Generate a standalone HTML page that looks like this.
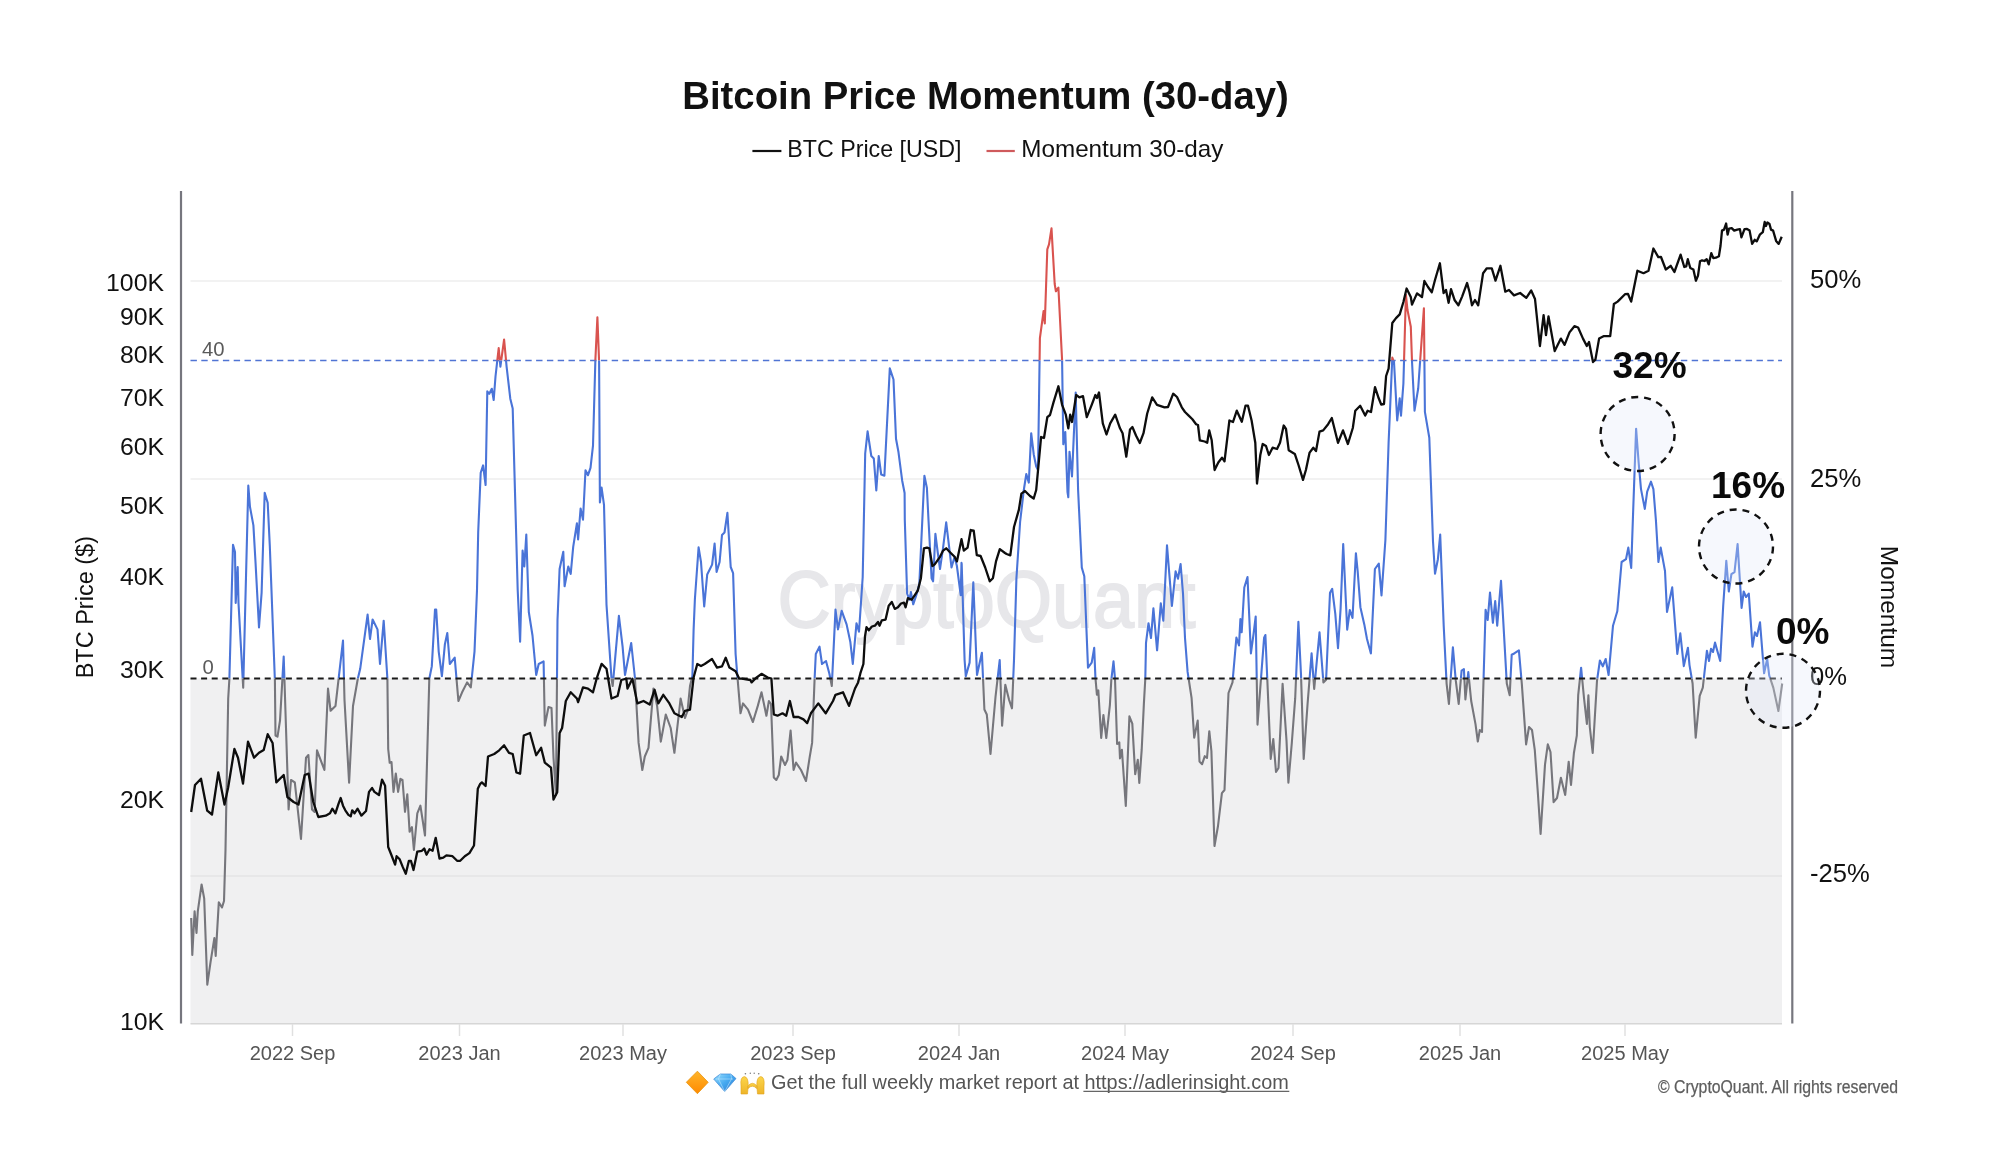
<!DOCTYPE html>
<html><head><meta charset="utf-8"><style>
html,body{margin:0;padding:0;background:#fff;}
body{width:2000px;height:1175px;overflow:hidden;position:relative;}
svg{position:absolute;left:0;top:0;will-change:transform;}
text{font-family:"Liberation Sans",sans-serif;}
</style></head><body>
<svg width="2000" height="1175" viewBox="0 0 2000 1175">
<defs>
<clipPath id="cTop"><rect x="0" y="0" width="2000" height="360.5"/></clipPath>
<clipPath id="cMid"><rect x="0" y="360.5" width="2000" height="318.0"/></clipPath>
<clipPath id="cBot"><rect x="0" y="678.5" width="2000" height="496.5"/></clipPath>
</defs>
<text x="682.3" y="108.8" font-size="38.5" font-weight="bold" fill="#111" textLength="606.5" lengthAdjust="spacingAndGlyphs">Bitcoin Price Momentum (30-day)</text>
<line x1="752.4" y1="151" x2="781.4" y2="151" stroke="#111" stroke-width="2.2"/>
<text x="787.3" y="156.9" font-size="24" fill="#111" textLength="174.2" lengthAdjust="spacingAndGlyphs">BTC Price [USD]</text>
<line x1="986.5" y1="151" x2="1014.8" y2="151" stroke="#cf5a5c" stroke-width="2.2"/>
<text x="1021.3" y="156.6" font-size="24" fill="#111" textLength="202" lengthAdjust="spacingAndGlyphs">Momentum 30-day</text>
<rect x="190.5" y="678.5" width="1591.5" height="345.0" fill="#f0f0f1"/>
<g stroke="#eeeeee" stroke-width="1.5">
<line x1="190.5" y1="281" x2="1782" y2="281"/>
<line x1="190.5" y1="479" x2="1782" y2="479"/>
<line x1="190.5" y1="876" x2="1782" y2="876" stroke="#e4e4e4"/>
</g>
<line x1="190.5" y1="1023.8" x2="1782" y2="1023.8" stroke="#d6d6d6" stroke-width="1.5"/>
<text x="777.6" y="626.5" font-size="79" fill="#e7e7ea" stroke="#e7e7ea" stroke-width="1.8" textLength="418" lengthAdjust="spacingAndGlyphs">CryptoQuant</text>
<line x1="190.5" y1="360.5" x2="1782" y2="360.5" stroke="#5074d4" stroke-width="1.7" stroke-dasharray="6.4,4.4"/>
<text x="202" y="356.2" font-size="20.3" fill="#5a5a5a">40</text>
<text x="202.5" y="673.8" font-size="20.3" fill="#5a5a5a">0</text>
<g fill="none" stroke-width="2.1" stroke-linejoin="round">
<path d="M191.2,918.0 L192.3,955.0 L194.6,911.3 L196.5,933.0 L197.8,911.3 L201.6,884.5 L204.2,898.5 L207.3,984.7 L210.5,962.4 L214.4,938.0 L215.7,956.0 L218.8,902.4 L222.0,907.5 L224.0,901.0 L225.5,850.0 L228.2,698.5 L229.4,678.7 L233.0,544.8 L235.0,552.0 L235.7,603.0 L237.7,567.0 L238.5,603.0 L243.2,687.8 L248.3,485.5 L250.0,507.0 L253.4,525.4 L255.5,562.0 L259.0,627.5 L261.6,592.8 L264.7,492.7 L267.7,502.9 L269.8,545.8 L274.9,680.6 L275.5,735.5 L277.5,736.7 L280.0,720.7 L283.7,656.5 L286.0,728.0 L288.6,809.5 L291.0,780.0 L294.8,782.4 L301.0,839.0 L306.0,757.7 L308.4,755.0 L312.0,809.5 L314.6,812.0 L317.0,750.3 L324.4,770.0 L328.0,688.6 L330.6,710.8 L335.5,705.9 L343.0,640.5 L344.5,700.0 L349.1,782.7 L353.0,706.0 L357.8,678.7 L360.2,668.8 L367.6,614.6 L370.0,639.0 L372.6,619.5 L377.5,629.4 L380.0,664.0 L383.7,620.7 L387.4,678.7 L388.2,749.0 L389.7,762.8 L391.5,762.0 L393.5,791.9 L395.8,773.5 L398.1,791.9 L400.4,778.9 L402.5,780.0 L405.0,811.8 L407.3,794.2 L409.6,831.7 L411.9,827.1 L413.9,850.0 L417.3,813.3 L420.4,805.7 L425.0,835.5 L429.3,678.7 L431.8,666.4 L435.0,609.6 L436.2,609.6 L438.7,651.6 L441.9,676.2 L444.9,644.2 L447.3,633.0 L449.8,664.0 L454.7,657.7 L458.4,701.0 L462.1,692.3 L467.1,682.4 L470.8,687.4 L474.5,651.6 L477.0,590.0 L478.2,532.0 L480.7,472.8 L483.1,465.4 L485.6,485.0 L487.3,391.3 L489.3,393.8 L491.8,388.8 L493.7,400.0 L495.5,376.5 L498.7,348.0 L500.4,366.6 L504.1,339.5 L506.6,366.6 L510.3,398.7 L512.7,408.6 L517.7,590.0 L520.1,641.7 L522.6,550.5 L524.3,566.5 L526.3,534.5 L528.8,612.0 L532.5,635.5 L536.2,675.0 L538.7,664.0 L543.6,661.4 L544.8,725.6 L548.5,707.0 L551.5,708.0 L553.5,757.7 L556.0,794.7 L557.5,620.0 L559.6,569.0 L563.3,551.7 L564.6,586.3 L568.3,566.5 L570.7,574.0 L573.2,546.8 L576.9,523.3 L578.1,539.4 L580.6,508.5 L583.0,519.6 L585.5,470.3 L588.0,475.2 L590.5,467.8 L593.0,445.6 L595.4,359.2 L597.4,317.3 L599.1,361.7 L599.9,502.4 L601.6,487.6 L604.0,504.8 L606.5,604.7 L611.5,678.7 L612.7,686.0 L618.9,615.8 L622.6,646.6 L625.0,675.0 L631.2,643.0 L634.9,677.5 L638.6,742.9 L642.3,770.0 L644.8,756.5 L648.5,747.8 L653.4,688.6 L657.1,705.9 L660.8,741.6 L665.8,714.5 L670.7,728.0 L674.4,752.8 L680.6,698.5 L685.0,718.0 L687.5,711.0 L690.0,686.0 L692.4,676.0 L693.6,630.0 L694.9,599.0 L698.6,547.3 L701.0,562.0 L704.2,606.5 L707.2,574.5 L709.7,569.5 L712.1,564.6 L714.6,543.6 L716.6,572.0 L719.6,562.0 L722.0,535.0 L724.5,532.5 L727.4,512.8 L730.7,567.0 L733.1,573.2 L735.6,654.0 L738.0,683.7 L740.5,713.3 L743.0,703.4 L748.0,709.6 L752.9,722.0 L757.8,705.9 L761.5,692.3 L766.4,715.7 L768.9,701.0 L771.0,704.0 L773.8,777.4 L776.3,780.0 L778.8,775.0 L781.2,756.5 L785.0,765.0 L787.4,760.0 L790.6,730.5 L793.6,770.0 L796.0,762.6 L801.0,770.0 L806.0,781.0 L809.6,757.7 L812.1,742.9 L814.6,678.7 L815.8,654.0 L819.5,646.6 L822.0,664.0 L826.0,661.0 L829.4,673.8 L831.8,686.0 L835.5,609.6 L838.0,629.4 L841.7,610.8 L846.6,624.4 L850.3,641.7 L852.8,664.0 L856.5,623.2 L859.0,631.8 L862.7,577.0 L865.2,453.5 L867.6,431.3 L871.3,456.0 L873.8,458.5 L876.3,490.5 L878.7,456.0 L881.2,474.5 L884.4,475.7 L889.8,368.4 L893.5,379.5 L896.0,438.7 L898.5,452.3 L902.2,480.7 L904.6,493.0 L904.8,520.0 L907.1,593.5 L909.4,599.7 L910.9,592.0 L913.2,604.3 L916.3,595.1 L919.3,584.3 L924.4,475.7 L926.9,488.0 L928.5,520.0 L931.6,578.2 L933.1,581.3 L935.4,533.8 L937.7,552.2 L940.0,569.0 L943.1,547.6 L946.2,522.3 L949.2,547.6 L951.5,567.5 L954.6,556.8 L956.9,566.0 L960.7,595.1 L961.5,562.9 L961.7,564.0 L964.6,660.0 L965.8,676.2 L969.6,662.6 L973.3,582.4 L977.0,675.0 L981.9,652.8 L984.4,709.5 L986.8,714.5 L990.5,754.0 L995.5,697.0 L999.7,660.0 L1002.1,725.6 L1005.3,684.8 L1009.0,699.6 L1012.0,708.3 L1014.0,660.0 L1016.4,578.7 L1020.1,522.0 L1023.8,490.0 L1026.3,474.0 L1028.8,482.6 L1031.2,433.2 L1033.7,454.2 L1036.2,466.5 L1038.0,470.0 L1039.9,338.2 L1043.6,311.0 L1044.8,323.4 L1047.3,249.4 L1049.0,244.4 L1051.5,228.4 L1054.7,284.0 L1055.9,291.3 L1058.4,287.6 L1062.1,360.4 L1063.3,444.3 L1065.3,432.0 L1067.5,492.0 L1068.3,497.3 L1069.5,451.7 L1072.0,476.4 L1075.7,392.5 L1078.1,490.0 L1081.8,567.6 L1084.3,576.2 L1088.0,667.6 L1091.7,662.6 L1094.2,647.8 L1095.4,677.4 L1096.9,694.7 L1098.3,690.4 L1101.2,738.0 L1103.4,715.0 L1106.3,738.0 L1109.9,704.8 L1111.3,680.0 L1113.5,661.4 L1115.0,678.8 L1117.1,743.9 L1119.3,742.4 L1120.0,758.4 L1121.9,749.7 L1125.8,806.0 L1129.4,716.4 L1132.3,723.6 L1135.2,774.3 L1137.8,759.8 L1139.3,783.0 L1141.7,749.7 L1143.9,703.4 L1145.3,678.8 L1146.0,642.9 L1148.5,623.2 L1151.0,638.0 L1153.4,608.3 L1157.1,650.3 L1160.8,603.4 L1163.3,620.7 L1167.0,545.4 L1171.9,605.9 L1175.6,571.3 L1178.0,578.7 L1180.6,564.0 L1183.0,593.5 L1185.0,638.0 L1187.6,671.9 L1191.6,698.2 L1194.2,737.8 L1197.7,720.6 L1199.5,761.5 L1202.1,764.2 L1204.8,756.2 L1207.0,758.0 L1209.3,731.2 L1211.4,751.0 L1214.5,846.0 L1218.0,826.0 L1221.9,793.2 L1224.5,790.0 L1228.5,693.0 L1232.5,682.4 L1236.4,637.6 L1239.0,645.5 L1240.4,619.0 L1241.7,632.3 L1244.3,587.5 L1247.5,577.0 L1250.9,653.4 L1253.6,633.6 L1255.7,616.5 L1257.5,724.6 L1261.5,671.9 L1264.1,637.6 L1265.4,635.0 L1270.7,758.9 L1273.3,739.0 L1276.0,772.0 L1278.5,768.0 L1282.6,683.7 L1286.5,740.4 L1288.4,782.6 L1291.8,743.0 L1295.2,698.2 L1298.4,621.8 L1301.0,674.5 L1303.7,758.9 L1307.6,703.5 L1311.6,653.4 L1314.2,689.0 L1319.5,632.3 L1323.4,682.4 L1326.1,679.8 L1330.0,592.7 L1332.2,588.8 L1335.3,613.8 L1338.0,648.1 L1340.6,608.6 L1343.2,544.0 L1347.2,629.7 L1349.8,610.0 L1352.5,618.0 L1355.9,553.2 L1357.7,571.6 L1360.4,607.2 L1364.3,624.4 L1367.0,639.0 L1370.9,653.4 L1374.9,569.0 L1378.8,563.7 L1381.5,595.4 L1385.4,540.0 L1388.6,442.8 L1392.3,357.6 L1394.0,362.0 L1396.0,398.3 L1397.2,420.5 L1399.7,398.3 L1401.0,415.6 L1403.4,383.5 L1405.9,294.7 L1407.5,310.0 L1410.8,326.8 L1412.0,361.3 L1414.5,410.7 L1418.2,388.5 L1419.4,371.2 L1423.9,308.3 L1424.9,411.9 L1429.3,437.8 L1433.0,541.5 L1435.0,573.7 L1437.9,559.2 L1440.2,534.6 L1443.7,625.7 L1446.6,683.6 L1448.9,703.9 L1452.9,647.4 L1455.8,680.7 L1458.7,703.9 L1461.6,670.6 L1463.9,669.1 L1465.4,699.5 L1468.3,672.0 L1471.2,701.0 L1475.5,724.1 L1477.8,741.5 L1479.8,730.0 L1482.0,732.0 L1485.6,609.8 L1487.7,620.0 L1490.0,592.5 L1492.9,622.8 L1495.2,601.1 L1497.2,625.7 L1501.0,580.9 L1506.8,683.6 L1509.7,695.2 L1511.7,654.7 L1514.6,653.2 L1518.9,650.3 L1521.8,683.6 L1526.1,744.4 L1529.0,727.0 L1532.0,730.0 L1534.8,750.2 L1537.7,790.7 L1540.6,834.0 L1545.0,764.6 L1547.8,744.4 L1550.5,752.0 L1553.6,802.2 L1557.0,798.0 L1560.9,777.7 L1565.2,795.0 L1568.7,761.7 L1571.0,784.9 L1573.9,753.0 L1576.8,735.7 L1578.2,695.2 L1581.1,667.7 L1584.0,698.0 L1586.9,724.0 L1588.4,695.2 L1589.8,727.0 L1592.7,753.0 L1597.0,680.7 L1599.9,660.5 L1602.8,666.3 L1605.7,659.0 L1608.6,675.0 L1613.0,625.7 L1617.3,611.3 L1621.6,562.0 L1626.0,559.2 L1628.3,547.6 L1631.2,567.9 L1633.2,510.0 L1636.1,428.7 L1638.6,462.0 L1641.0,489.1 L1644.8,508.9 L1647.2,491.6 L1651.0,481.7 L1653.4,489.1 L1655.9,520.0 L1658.4,562.0 L1660.7,547.6 L1665.0,571.0 L1667.0,612.0 L1672.2,587.4 L1677.3,653.9 L1680.3,633.4 L1683.8,666.1 L1687.9,647.7 L1689.5,665.1 L1692.6,683.5 L1695.7,737.7 L1699.7,695.8 L1702.8,687.6 L1706.9,650.8 L1709.0,661.0 L1711.0,648.8 L1713.0,652.0 L1715.0,642.6 L1720.2,661.0 L1723.2,605.8 L1726.3,560.9 L1728.8,591.5 L1731.4,574.2 L1734.5,572.1 L1737.6,544.1 L1741.6,607.9 L1743.7,591.5 L1746.0,597.0 L1748.8,593.6 L1752.5,646.7 L1754.9,632.4 L1757.0,636.0 L1760.0,622.2 L1764.1,673.3 L1767.2,659.0 L1769.2,675.3 L1773.3,687.6 L1778.4,711.0 L1782.2,683.5" stroke="#d9534f" clip-path="url(#cTop)"/>
<path d="M191.2,918.0 L192.3,955.0 L194.6,911.3 L196.5,933.0 L197.8,911.3 L201.6,884.5 L204.2,898.5 L207.3,984.7 L210.5,962.4 L214.4,938.0 L215.7,956.0 L218.8,902.4 L222.0,907.5 L224.0,901.0 L225.5,850.0 L228.2,698.5 L229.4,678.7 L233.0,544.8 L235.0,552.0 L235.7,603.0 L237.7,567.0 L238.5,603.0 L243.2,687.8 L248.3,485.5 L250.0,507.0 L253.4,525.4 L255.5,562.0 L259.0,627.5 L261.6,592.8 L264.7,492.7 L267.7,502.9 L269.8,545.8 L274.9,680.6 L275.5,735.5 L277.5,736.7 L280.0,720.7 L283.7,656.5 L286.0,728.0 L288.6,809.5 L291.0,780.0 L294.8,782.4 L301.0,839.0 L306.0,757.7 L308.4,755.0 L312.0,809.5 L314.6,812.0 L317.0,750.3 L324.4,770.0 L328.0,688.6 L330.6,710.8 L335.5,705.9 L343.0,640.5 L344.5,700.0 L349.1,782.7 L353.0,706.0 L357.8,678.7 L360.2,668.8 L367.6,614.6 L370.0,639.0 L372.6,619.5 L377.5,629.4 L380.0,664.0 L383.7,620.7 L387.4,678.7 L388.2,749.0 L389.7,762.8 L391.5,762.0 L393.5,791.9 L395.8,773.5 L398.1,791.9 L400.4,778.9 L402.5,780.0 L405.0,811.8 L407.3,794.2 L409.6,831.7 L411.9,827.1 L413.9,850.0 L417.3,813.3 L420.4,805.7 L425.0,835.5 L429.3,678.7 L431.8,666.4 L435.0,609.6 L436.2,609.6 L438.7,651.6 L441.9,676.2 L444.9,644.2 L447.3,633.0 L449.8,664.0 L454.7,657.7 L458.4,701.0 L462.1,692.3 L467.1,682.4 L470.8,687.4 L474.5,651.6 L477.0,590.0 L478.2,532.0 L480.7,472.8 L483.1,465.4 L485.6,485.0 L487.3,391.3 L489.3,393.8 L491.8,388.8 L493.7,400.0 L495.5,376.5 L498.7,348.0 L500.4,366.6 L504.1,339.5 L506.6,366.6 L510.3,398.7 L512.7,408.6 L517.7,590.0 L520.1,641.7 L522.6,550.5 L524.3,566.5 L526.3,534.5 L528.8,612.0 L532.5,635.5 L536.2,675.0 L538.7,664.0 L543.6,661.4 L544.8,725.6 L548.5,707.0 L551.5,708.0 L553.5,757.7 L556.0,794.7 L557.5,620.0 L559.6,569.0 L563.3,551.7 L564.6,586.3 L568.3,566.5 L570.7,574.0 L573.2,546.8 L576.9,523.3 L578.1,539.4 L580.6,508.5 L583.0,519.6 L585.5,470.3 L588.0,475.2 L590.5,467.8 L593.0,445.6 L595.4,359.2 L597.4,317.3 L599.1,361.7 L599.9,502.4 L601.6,487.6 L604.0,504.8 L606.5,604.7 L611.5,678.7 L612.7,686.0 L618.9,615.8 L622.6,646.6 L625.0,675.0 L631.2,643.0 L634.9,677.5 L638.6,742.9 L642.3,770.0 L644.8,756.5 L648.5,747.8 L653.4,688.6 L657.1,705.9 L660.8,741.6 L665.8,714.5 L670.7,728.0 L674.4,752.8 L680.6,698.5 L685.0,718.0 L687.5,711.0 L690.0,686.0 L692.4,676.0 L693.6,630.0 L694.9,599.0 L698.6,547.3 L701.0,562.0 L704.2,606.5 L707.2,574.5 L709.7,569.5 L712.1,564.6 L714.6,543.6 L716.6,572.0 L719.6,562.0 L722.0,535.0 L724.5,532.5 L727.4,512.8 L730.7,567.0 L733.1,573.2 L735.6,654.0 L738.0,683.7 L740.5,713.3 L743.0,703.4 L748.0,709.6 L752.9,722.0 L757.8,705.9 L761.5,692.3 L766.4,715.7 L768.9,701.0 L771.0,704.0 L773.8,777.4 L776.3,780.0 L778.8,775.0 L781.2,756.5 L785.0,765.0 L787.4,760.0 L790.6,730.5 L793.6,770.0 L796.0,762.6 L801.0,770.0 L806.0,781.0 L809.6,757.7 L812.1,742.9 L814.6,678.7 L815.8,654.0 L819.5,646.6 L822.0,664.0 L826.0,661.0 L829.4,673.8 L831.8,686.0 L835.5,609.6 L838.0,629.4 L841.7,610.8 L846.6,624.4 L850.3,641.7 L852.8,664.0 L856.5,623.2 L859.0,631.8 L862.7,577.0 L865.2,453.5 L867.6,431.3 L871.3,456.0 L873.8,458.5 L876.3,490.5 L878.7,456.0 L881.2,474.5 L884.4,475.7 L889.8,368.4 L893.5,379.5 L896.0,438.7 L898.5,452.3 L902.2,480.7 L904.6,493.0 L904.8,520.0 L907.1,593.5 L909.4,599.7 L910.9,592.0 L913.2,604.3 L916.3,595.1 L919.3,584.3 L924.4,475.7 L926.9,488.0 L928.5,520.0 L931.6,578.2 L933.1,581.3 L935.4,533.8 L937.7,552.2 L940.0,569.0 L943.1,547.6 L946.2,522.3 L949.2,547.6 L951.5,567.5 L954.6,556.8 L956.9,566.0 L960.7,595.1 L961.5,562.9 L961.7,564.0 L964.6,660.0 L965.8,676.2 L969.6,662.6 L973.3,582.4 L977.0,675.0 L981.9,652.8 L984.4,709.5 L986.8,714.5 L990.5,754.0 L995.5,697.0 L999.7,660.0 L1002.1,725.6 L1005.3,684.8 L1009.0,699.6 L1012.0,708.3 L1014.0,660.0 L1016.4,578.7 L1020.1,522.0 L1023.8,490.0 L1026.3,474.0 L1028.8,482.6 L1031.2,433.2 L1033.7,454.2 L1036.2,466.5 L1038.0,470.0 L1039.9,338.2 L1043.6,311.0 L1044.8,323.4 L1047.3,249.4 L1049.0,244.4 L1051.5,228.4 L1054.7,284.0 L1055.9,291.3 L1058.4,287.6 L1062.1,360.4 L1063.3,444.3 L1065.3,432.0 L1067.5,492.0 L1068.3,497.3 L1069.5,451.7 L1072.0,476.4 L1075.7,392.5 L1078.1,490.0 L1081.8,567.6 L1084.3,576.2 L1088.0,667.6 L1091.7,662.6 L1094.2,647.8 L1095.4,677.4 L1096.9,694.7 L1098.3,690.4 L1101.2,738.0 L1103.4,715.0 L1106.3,738.0 L1109.9,704.8 L1111.3,680.0 L1113.5,661.4 L1115.0,678.8 L1117.1,743.9 L1119.3,742.4 L1120.0,758.4 L1121.9,749.7 L1125.8,806.0 L1129.4,716.4 L1132.3,723.6 L1135.2,774.3 L1137.8,759.8 L1139.3,783.0 L1141.7,749.7 L1143.9,703.4 L1145.3,678.8 L1146.0,642.9 L1148.5,623.2 L1151.0,638.0 L1153.4,608.3 L1157.1,650.3 L1160.8,603.4 L1163.3,620.7 L1167.0,545.4 L1171.9,605.9 L1175.6,571.3 L1178.0,578.7 L1180.6,564.0 L1183.0,593.5 L1185.0,638.0 L1187.6,671.9 L1191.6,698.2 L1194.2,737.8 L1197.7,720.6 L1199.5,761.5 L1202.1,764.2 L1204.8,756.2 L1207.0,758.0 L1209.3,731.2 L1211.4,751.0 L1214.5,846.0 L1218.0,826.0 L1221.9,793.2 L1224.5,790.0 L1228.5,693.0 L1232.5,682.4 L1236.4,637.6 L1239.0,645.5 L1240.4,619.0 L1241.7,632.3 L1244.3,587.5 L1247.5,577.0 L1250.9,653.4 L1253.6,633.6 L1255.7,616.5 L1257.5,724.6 L1261.5,671.9 L1264.1,637.6 L1265.4,635.0 L1270.7,758.9 L1273.3,739.0 L1276.0,772.0 L1278.5,768.0 L1282.6,683.7 L1286.5,740.4 L1288.4,782.6 L1291.8,743.0 L1295.2,698.2 L1298.4,621.8 L1301.0,674.5 L1303.7,758.9 L1307.6,703.5 L1311.6,653.4 L1314.2,689.0 L1319.5,632.3 L1323.4,682.4 L1326.1,679.8 L1330.0,592.7 L1332.2,588.8 L1335.3,613.8 L1338.0,648.1 L1340.6,608.6 L1343.2,544.0 L1347.2,629.7 L1349.8,610.0 L1352.5,618.0 L1355.9,553.2 L1357.7,571.6 L1360.4,607.2 L1364.3,624.4 L1367.0,639.0 L1370.9,653.4 L1374.9,569.0 L1378.8,563.7 L1381.5,595.4 L1385.4,540.0 L1388.6,442.8 L1392.3,357.6 L1394.0,362.0 L1396.0,398.3 L1397.2,420.5 L1399.7,398.3 L1401.0,415.6 L1403.4,383.5 L1405.9,294.7 L1407.5,310.0 L1410.8,326.8 L1412.0,361.3 L1414.5,410.7 L1418.2,388.5 L1419.4,371.2 L1423.9,308.3 L1424.9,411.9 L1429.3,437.8 L1433.0,541.5 L1435.0,573.7 L1437.9,559.2 L1440.2,534.6 L1443.7,625.7 L1446.6,683.6 L1448.9,703.9 L1452.9,647.4 L1455.8,680.7 L1458.7,703.9 L1461.6,670.6 L1463.9,669.1 L1465.4,699.5 L1468.3,672.0 L1471.2,701.0 L1475.5,724.1 L1477.8,741.5 L1479.8,730.0 L1482.0,732.0 L1485.6,609.8 L1487.7,620.0 L1490.0,592.5 L1492.9,622.8 L1495.2,601.1 L1497.2,625.7 L1501.0,580.9 L1506.8,683.6 L1509.7,695.2 L1511.7,654.7 L1514.6,653.2 L1518.9,650.3 L1521.8,683.6 L1526.1,744.4 L1529.0,727.0 L1532.0,730.0 L1534.8,750.2 L1537.7,790.7 L1540.6,834.0 L1545.0,764.6 L1547.8,744.4 L1550.5,752.0 L1553.6,802.2 L1557.0,798.0 L1560.9,777.7 L1565.2,795.0 L1568.7,761.7 L1571.0,784.9 L1573.9,753.0 L1576.8,735.7 L1578.2,695.2 L1581.1,667.7 L1584.0,698.0 L1586.9,724.0 L1588.4,695.2 L1589.8,727.0 L1592.7,753.0 L1597.0,680.7 L1599.9,660.5 L1602.8,666.3 L1605.7,659.0 L1608.6,675.0 L1613.0,625.7 L1617.3,611.3 L1621.6,562.0 L1626.0,559.2 L1628.3,547.6 L1631.2,567.9 L1633.2,510.0 L1636.1,428.7 L1638.6,462.0 L1641.0,489.1 L1644.8,508.9 L1647.2,491.6 L1651.0,481.7 L1653.4,489.1 L1655.9,520.0 L1658.4,562.0 L1660.7,547.6 L1665.0,571.0 L1667.0,612.0 L1672.2,587.4 L1677.3,653.9 L1680.3,633.4 L1683.8,666.1 L1687.9,647.7 L1689.5,665.1 L1692.6,683.5 L1695.7,737.7 L1699.7,695.8 L1702.8,687.6 L1706.9,650.8 L1709.0,661.0 L1711.0,648.8 L1713.0,652.0 L1715.0,642.6 L1720.2,661.0 L1723.2,605.8 L1726.3,560.9 L1728.8,591.5 L1731.4,574.2 L1734.5,572.1 L1737.6,544.1 L1741.6,607.9 L1743.7,591.5 L1746.0,597.0 L1748.8,593.6 L1752.5,646.7 L1754.9,632.4 L1757.0,636.0 L1760.0,622.2 L1764.1,673.3 L1767.2,659.0 L1769.2,675.3 L1773.3,687.6 L1778.4,711.0 L1782.2,683.5" stroke="#4a74d8" clip-path="url(#cMid)"/>
<path d="M191.2,918.0 L192.3,955.0 L194.6,911.3 L196.5,933.0 L197.8,911.3 L201.6,884.5 L204.2,898.5 L207.3,984.7 L210.5,962.4 L214.4,938.0 L215.7,956.0 L218.8,902.4 L222.0,907.5 L224.0,901.0 L225.5,850.0 L228.2,698.5 L229.4,678.7 L233.0,544.8 L235.0,552.0 L235.7,603.0 L237.7,567.0 L238.5,603.0 L243.2,687.8 L248.3,485.5 L250.0,507.0 L253.4,525.4 L255.5,562.0 L259.0,627.5 L261.6,592.8 L264.7,492.7 L267.7,502.9 L269.8,545.8 L274.9,680.6 L275.5,735.5 L277.5,736.7 L280.0,720.7 L283.7,656.5 L286.0,728.0 L288.6,809.5 L291.0,780.0 L294.8,782.4 L301.0,839.0 L306.0,757.7 L308.4,755.0 L312.0,809.5 L314.6,812.0 L317.0,750.3 L324.4,770.0 L328.0,688.6 L330.6,710.8 L335.5,705.9 L343.0,640.5 L344.5,700.0 L349.1,782.7 L353.0,706.0 L357.8,678.7 L360.2,668.8 L367.6,614.6 L370.0,639.0 L372.6,619.5 L377.5,629.4 L380.0,664.0 L383.7,620.7 L387.4,678.7 L388.2,749.0 L389.7,762.8 L391.5,762.0 L393.5,791.9 L395.8,773.5 L398.1,791.9 L400.4,778.9 L402.5,780.0 L405.0,811.8 L407.3,794.2 L409.6,831.7 L411.9,827.1 L413.9,850.0 L417.3,813.3 L420.4,805.7 L425.0,835.5 L429.3,678.7 L431.8,666.4 L435.0,609.6 L436.2,609.6 L438.7,651.6 L441.9,676.2 L444.9,644.2 L447.3,633.0 L449.8,664.0 L454.7,657.7 L458.4,701.0 L462.1,692.3 L467.1,682.4 L470.8,687.4 L474.5,651.6 L477.0,590.0 L478.2,532.0 L480.7,472.8 L483.1,465.4 L485.6,485.0 L487.3,391.3 L489.3,393.8 L491.8,388.8 L493.7,400.0 L495.5,376.5 L498.7,348.0 L500.4,366.6 L504.1,339.5 L506.6,366.6 L510.3,398.7 L512.7,408.6 L517.7,590.0 L520.1,641.7 L522.6,550.5 L524.3,566.5 L526.3,534.5 L528.8,612.0 L532.5,635.5 L536.2,675.0 L538.7,664.0 L543.6,661.4 L544.8,725.6 L548.5,707.0 L551.5,708.0 L553.5,757.7 L556.0,794.7 L557.5,620.0 L559.6,569.0 L563.3,551.7 L564.6,586.3 L568.3,566.5 L570.7,574.0 L573.2,546.8 L576.9,523.3 L578.1,539.4 L580.6,508.5 L583.0,519.6 L585.5,470.3 L588.0,475.2 L590.5,467.8 L593.0,445.6 L595.4,359.2 L597.4,317.3 L599.1,361.7 L599.9,502.4 L601.6,487.6 L604.0,504.8 L606.5,604.7 L611.5,678.7 L612.7,686.0 L618.9,615.8 L622.6,646.6 L625.0,675.0 L631.2,643.0 L634.9,677.5 L638.6,742.9 L642.3,770.0 L644.8,756.5 L648.5,747.8 L653.4,688.6 L657.1,705.9 L660.8,741.6 L665.8,714.5 L670.7,728.0 L674.4,752.8 L680.6,698.5 L685.0,718.0 L687.5,711.0 L690.0,686.0 L692.4,676.0 L693.6,630.0 L694.9,599.0 L698.6,547.3 L701.0,562.0 L704.2,606.5 L707.2,574.5 L709.7,569.5 L712.1,564.6 L714.6,543.6 L716.6,572.0 L719.6,562.0 L722.0,535.0 L724.5,532.5 L727.4,512.8 L730.7,567.0 L733.1,573.2 L735.6,654.0 L738.0,683.7 L740.5,713.3 L743.0,703.4 L748.0,709.6 L752.9,722.0 L757.8,705.9 L761.5,692.3 L766.4,715.7 L768.9,701.0 L771.0,704.0 L773.8,777.4 L776.3,780.0 L778.8,775.0 L781.2,756.5 L785.0,765.0 L787.4,760.0 L790.6,730.5 L793.6,770.0 L796.0,762.6 L801.0,770.0 L806.0,781.0 L809.6,757.7 L812.1,742.9 L814.6,678.7 L815.8,654.0 L819.5,646.6 L822.0,664.0 L826.0,661.0 L829.4,673.8 L831.8,686.0 L835.5,609.6 L838.0,629.4 L841.7,610.8 L846.6,624.4 L850.3,641.7 L852.8,664.0 L856.5,623.2 L859.0,631.8 L862.7,577.0 L865.2,453.5 L867.6,431.3 L871.3,456.0 L873.8,458.5 L876.3,490.5 L878.7,456.0 L881.2,474.5 L884.4,475.7 L889.8,368.4 L893.5,379.5 L896.0,438.7 L898.5,452.3 L902.2,480.7 L904.6,493.0 L904.8,520.0 L907.1,593.5 L909.4,599.7 L910.9,592.0 L913.2,604.3 L916.3,595.1 L919.3,584.3 L924.4,475.7 L926.9,488.0 L928.5,520.0 L931.6,578.2 L933.1,581.3 L935.4,533.8 L937.7,552.2 L940.0,569.0 L943.1,547.6 L946.2,522.3 L949.2,547.6 L951.5,567.5 L954.6,556.8 L956.9,566.0 L960.7,595.1 L961.5,562.9 L961.7,564.0 L964.6,660.0 L965.8,676.2 L969.6,662.6 L973.3,582.4 L977.0,675.0 L981.9,652.8 L984.4,709.5 L986.8,714.5 L990.5,754.0 L995.5,697.0 L999.7,660.0 L1002.1,725.6 L1005.3,684.8 L1009.0,699.6 L1012.0,708.3 L1014.0,660.0 L1016.4,578.7 L1020.1,522.0 L1023.8,490.0 L1026.3,474.0 L1028.8,482.6 L1031.2,433.2 L1033.7,454.2 L1036.2,466.5 L1038.0,470.0 L1039.9,338.2 L1043.6,311.0 L1044.8,323.4 L1047.3,249.4 L1049.0,244.4 L1051.5,228.4 L1054.7,284.0 L1055.9,291.3 L1058.4,287.6 L1062.1,360.4 L1063.3,444.3 L1065.3,432.0 L1067.5,492.0 L1068.3,497.3 L1069.5,451.7 L1072.0,476.4 L1075.7,392.5 L1078.1,490.0 L1081.8,567.6 L1084.3,576.2 L1088.0,667.6 L1091.7,662.6 L1094.2,647.8 L1095.4,677.4 L1096.9,694.7 L1098.3,690.4 L1101.2,738.0 L1103.4,715.0 L1106.3,738.0 L1109.9,704.8 L1111.3,680.0 L1113.5,661.4 L1115.0,678.8 L1117.1,743.9 L1119.3,742.4 L1120.0,758.4 L1121.9,749.7 L1125.8,806.0 L1129.4,716.4 L1132.3,723.6 L1135.2,774.3 L1137.8,759.8 L1139.3,783.0 L1141.7,749.7 L1143.9,703.4 L1145.3,678.8 L1146.0,642.9 L1148.5,623.2 L1151.0,638.0 L1153.4,608.3 L1157.1,650.3 L1160.8,603.4 L1163.3,620.7 L1167.0,545.4 L1171.9,605.9 L1175.6,571.3 L1178.0,578.7 L1180.6,564.0 L1183.0,593.5 L1185.0,638.0 L1187.6,671.9 L1191.6,698.2 L1194.2,737.8 L1197.7,720.6 L1199.5,761.5 L1202.1,764.2 L1204.8,756.2 L1207.0,758.0 L1209.3,731.2 L1211.4,751.0 L1214.5,846.0 L1218.0,826.0 L1221.9,793.2 L1224.5,790.0 L1228.5,693.0 L1232.5,682.4 L1236.4,637.6 L1239.0,645.5 L1240.4,619.0 L1241.7,632.3 L1244.3,587.5 L1247.5,577.0 L1250.9,653.4 L1253.6,633.6 L1255.7,616.5 L1257.5,724.6 L1261.5,671.9 L1264.1,637.6 L1265.4,635.0 L1270.7,758.9 L1273.3,739.0 L1276.0,772.0 L1278.5,768.0 L1282.6,683.7 L1286.5,740.4 L1288.4,782.6 L1291.8,743.0 L1295.2,698.2 L1298.4,621.8 L1301.0,674.5 L1303.7,758.9 L1307.6,703.5 L1311.6,653.4 L1314.2,689.0 L1319.5,632.3 L1323.4,682.4 L1326.1,679.8 L1330.0,592.7 L1332.2,588.8 L1335.3,613.8 L1338.0,648.1 L1340.6,608.6 L1343.2,544.0 L1347.2,629.7 L1349.8,610.0 L1352.5,618.0 L1355.9,553.2 L1357.7,571.6 L1360.4,607.2 L1364.3,624.4 L1367.0,639.0 L1370.9,653.4 L1374.9,569.0 L1378.8,563.7 L1381.5,595.4 L1385.4,540.0 L1388.6,442.8 L1392.3,357.6 L1394.0,362.0 L1396.0,398.3 L1397.2,420.5 L1399.7,398.3 L1401.0,415.6 L1403.4,383.5 L1405.9,294.7 L1407.5,310.0 L1410.8,326.8 L1412.0,361.3 L1414.5,410.7 L1418.2,388.5 L1419.4,371.2 L1423.9,308.3 L1424.9,411.9 L1429.3,437.8 L1433.0,541.5 L1435.0,573.7 L1437.9,559.2 L1440.2,534.6 L1443.7,625.7 L1446.6,683.6 L1448.9,703.9 L1452.9,647.4 L1455.8,680.7 L1458.7,703.9 L1461.6,670.6 L1463.9,669.1 L1465.4,699.5 L1468.3,672.0 L1471.2,701.0 L1475.5,724.1 L1477.8,741.5 L1479.8,730.0 L1482.0,732.0 L1485.6,609.8 L1487.7,620.0 L1490.0,592.5 L1492.9,622.8 L1495.2,601.1 L1497.2,625.7 L1501.0,580.9 L1506.8,683.6 L1509.7,695.2 L1511.7,654.7 L1514.6,653.2 L1518.9,650.3 L1521.8,683.6 L1526.1,744.4 L1529.0,727.0 L1532.0,730.0 L1534.8,750.2 L1537.7,790.7 L1540.6,834.0 L1545.0,764.6 L1547.8,744.4 L1550.5,752.0 L1553.6,802.2 L1557.0,798.0 L1560.9,777.7 L1565.2,795.0 L1568.7,761.7 L1571.0,784.9 L1573.9,753.0 L1576.8,735.7 L1578.2,695.2 L1581.1,667.7 L1584.0,698.0 L1586.9,724.0 L1588.4,695.2 L1589.8,727.0 L1592.7,753.0 L1597.0,680.7 L1599.9,660.5 L1602.8,666.3 L1605.7,659.0 L1608.6,675.0 L1613.0,625.7 L1617.3,611.3 L1621.6,562.0 L1626.0,559.2 L1628.3,547.6 L1631.2,567.9 L1633.2,510.0 L1636.1,428.7 L1638.6,462.0 L1641.0,489.1 L1644.8,508.9 L1647.2,491.6 L1651.0,481.7 L1653.4,489.1 L1655.9,520.0 L1658.4,562.0 L1660.7,547.6 L1665.0,571.0 L1667.0,612.0 L1672.2,587.4 L1677.3,653.9 L1680.3,633.4 L1683.8,666.1 L1687.9,647.7 L1689.5,665.1 L1692.6,683.5 L1695.7,737.7 L1699.7,695.8 L1702.8,687.6 L1706.9,650.8 L1709.0,661.0 L1711.0,648.8 L1713.0,652.0 L1715.0,642.6 L1720.2,661.0 L1723.2,605.8 L1726.3,560.9 L1728.8,591.5 L1731.4,574.2 L1734.5,572.1 L1737.6,544.1 L1741.6,607.9 L1743.7,591.5 L1746.0,597.0 L1748.8,593.6 L1752.5,646.7 L1754.9,632.4 L1757.0,636.0 L1760.0,622.2 L1764.1,673.3 L1767.2,659.0 L1769.2,675.3 L1773.3,687.6 L1778.4,711.0 L1782.2,683.5" stroke="#76767c" clip-path="url(#cBot)"/>
</g>
<line x1="190.5" y1="678.5" x2="1782" y2="678.5" stroke="#1a1a1a" stroke-width="2" stroke-dasharray="6,4.6"/>
<path d="M191.2,812.0 L195.0,785.0 L201.0,778.7 L207.2,810.7 L212.0,814.5 L218.3,772.5 L224.5,804.6 L228.2,787.3 L234.4,749.0 L238.0,757.7 L243.0,783.6 L248.0,741.6 L254.0,757.7 L259.0,752.8 L263.7,750.0 L267.7,734.2 L272.6,743.0 L276.3,782.4 L283.7,775.0 L287.4,797.0 L293.6,802.0 L298.5,804.6 L304.7,775.0 L308.6,773.6 L313.3,802.0 L318.3,817.0 L325.7,815.7 L330.0,813.3 L332.3,808.7 L335.4,813.3 L338.4,804.1 L340.7,798.0 L343.0,805.7 L345.3,810.3 L348.4,814.9 L350.7,816.4 L352.2,810.3 L354.5,813.3 L357.6,808.7 L361.4,815.6 L366.0,811.0 L369.0,791.9 L372.1,788.0 L374.4,791.9 L379.0,795.0 L382.0,779.6 L385.1,785.8 L388.2,847.0 L391.3,854.7 L395.1,864.6 L396.6,856.2 L399.7,859.3 L402.7,866.9 L405.8,873.8 L408.9,860.8 L411.0,861.0 L413.5,870.0 L417.3,851.6 L421.9,850.8 L424.2,848.5 L426.5,854.7 L429.5,849.3 L432.6,850.8 L435.7,837.8 L439.5,858.5 L443.3,857.7 L446.4,855.4 L452.5,856.2 L457.1,860.8 L460.2,860.8 L464.8,856.2 L469.4,853.1 L474.0,845.5 L477.8,788.8 L480.0,784.2 L481.9,782.4 L485.6,786.0 L488.0,756.5 L494.2,754.0 L499.2,750.3 L504.1,745.3 L509.0,752.8 L512.7,754.0 L516.4,772.5 L520.1,773.7 L523.8,735.5 L530.0,733.0 L536.2,755.2 L541.1,747.8 L544.8,762.6 L551.0,767.6 L553.5,799.6 L557.2,792.2 L559.6,733.0 L562.1,728.0 L565.8,701.0 L570.7,692.3 L576.9,698.5 L578.1,702.2 L583.0,687.4 L588.0,688.6 L593.0,692.3 L596.6,678.7 L601.6,663.9 L606.5,668.8 L611.5,698.5 L617.6,696.0 L621.3,680.0 L626.3,678.7 L627.5,688.6 L632.4,678.7 L637.4,703.4 L643.5,701.0 L649.7,704.6 L654.6,689.8 L658.3,703.4 L663.3,694.8 L669.4,703.4 L674.4,713.3 L681.8,717.0 L685.0,710.8 L690.0,709.6 L693.6,677.5 L697.3,664.0 L701.0,666.0 L704.7,664.0 L712.0,659.0 L717.0,667.6 L722.0,666.4 L725.7,657.7 L729.4,667.6 L735.6,671.3 L739.3,678.7 L741.8,678.7 L750.4,680.0 L751.6,682.4 L756.0,678.0 L761.5,673.8 L767.7,677.5 L771.4,678.7 L773.8,714.5 L777.5,715.7 L782.5,713.3 L786.2,715.7 L789.9,701.0 L793.6,717.0 L798.5,717.0 L803.5,719.4 L807.2,723.1 L810.9,713.3 L818.3,703.4 L825.7,713.3 L833.0,701.0 L835.5,694.8 L843.0,692.3 L849.0,705.9 L855.0,688.5 L858.1,682.4 L860.4,673.2 L863.4,664.0 L865.0,636.4 L866.5,627.2 L868.8,630.3 L871.9,626.5 L874.9,625.7 L878.0,621.9 L879.5,625.7 L881.8,620.4 L885.6,619.6 L888.7,605.8 L891.8,602.0 L894.8,608.9 L897.9,607.3 L901.0,603.5 L904.0,602.7 L905.6,607.3 L907.9,598.1 L911.7,599.7 L914.8,595.1 L917.8,590.5 L920.9,578.2 L923.9,548.3 L927.0,547.6 L929.3,548.3 L932.4,566.0 L934.7,564.4 L940.0,556.8 L943.1,550.6 L946.2,548.3 L950.0,552.2 L954.6,556.8 L956.9,561.4 L961.5,539.2 L963.8,550.6 L967.6,547.6 L970.7,530.0 L973.7,530.7 L976.8,555.2 L980.6,556.0 L985.2,567.5 L989.8,581.3 L992.9,578.2 L996.0,561.4 L999.8,549.1 L1005.0,553.0 L1006.6,554.0 L1010.3,555.3 L1014.0,527.0 L1018.9,509.6 L1021.4,493.6 L1025.0,491.0 L1030.0,496.0 L1033.7,498.5 L1036.2,490.0 L1041.1,437.0 L1044.0,438.0 L1047.3,417.2 L1050.0,415.0 L1053.5,402.4 L1058.4,386.3 L1062.1,404.8 L1065.8,414.7 L1068.3,428.3 L1070.2,414.7 L1072.0,422.0 L1076.2,395.0 L1079.4,397.4 L1083.0,396.2 L1086.8,417.2 L1091.7,404.8 L1095.4,395.0 L1097.0,398.0 L1099.0,392.5 L1102.8,423.3 L1106.5,434.5 L1110.2,423.3 L1115.2,414.7 L1120.0,428.3 L1122.6,433.2 L1126.3,456.7 L1130.0,429.5 L1132.4,427.0 L1136.1,435.7 L1139.8,443.0 L1143.5,433.2 L1147.2,413.5 L1152.2,397.4 L1157.0,404.8 L1164.5,407.3 L1168.0,407.0 L1173.2,393.7 L1177.0,397.0 L1181.8,407.3 L1185.0,412.0 L1188.7,415.6 L1192.4,419.3 L1196.1,424.2 L1198.0,425.0 L1199.8,440.3 L1204.7,441.5 L1207.2,442.8 L1209.2,430.4 L1211.7,440.3 L1214.6,470.0 L1218.3,462.5 L1222.0,457.6 L1224.5,461.3 L1229.4,420.5 L1233.0,422.0 L1236.8,410.7 L1241.8,421.8 L1245.5,405.7 L1248.0,405.7 L1251.6,420.5 L1255.3,442.8 L1257.0,483.5 L1260.3,455.0 L1262.7,444.0 L1266.0,446.0 L1268.9,455.0 L1272.6,447.7 L1277.0,449.0 L1280.0,442.8 L1283.7,425.5 L1286.0,429.0 L1288.7,450.2 L1294.8,453.9 L1298.5,465.0 L1303.0,479.8 L1305.9,470.0 L1309.6,452.6 L1313.3,447.7 L1316.0,451.0 L1319.5,431.6 L1323.2,430.4 L1328.1,424.2 L1331.8,418.0 L1334.3,428.0 L1338.0,442.8 L1343.0,430.4 L1347.9,444.0 L1352.8,428.0 L1355.3,410.7 L1360.2,405.7 L1365.2,415.6 L1367.6,410.7 L1371.0,412.0 L1375.0,387.2 L1378.7,398.3 L1381.2,404.5 L1384.0,404.0 L1386.1,376.0 L1388.6,368.7 L1392.3,323.0 L1396.0,318.1 L1399.7,314.4 L1403.4,302.0 L1406.6,288.5 L1410.8,297.0 L1412.0,304.6 L1417.0,293.4 L1422.0,297.0 L1424.4,281.0 L1428.0,287.0 L1431.8,292.2 L1435.0,280.0 L1439.9,263.3 L1443.6,293.0 L1446.0,290.0 L1448.6,302.8 L1451.0,289.2 L1454.7,300.3 L1458.4,305.3 L1462.1,296.6 L1467.1,283.0 L1469.5,292.0 L1472.0,305.3 L1475.0,300.0 L1478.2,305.3 L1483.1,273.2 L1486.8,268.3 L1491.8,268.3 L1495.5,280.6 L1500.4,265.8 L1505.3,291.7 L1509.0,290.0 L1514.0,295.4 L1520.1,293.0 L1526.3,297.9 L1531.2,290.5 L1535.0,299.0 L1539.9,346.0 L1543.6,315.1 L1546.0,335.0 L1548.5,316.4 L1554.7,351.0 L1558.4,343.5 L1560.9,338.6 L1564.6,344.8 L1569.5,332.4 L1574.4,326.2 L1578.1,327.5 L1583.0,338.6 L1586.8,346.0 L1589.0,342.0 L1593.0,362.0 L1595.4,359.6 L1599.1,338.6 L1604.0,336.1 L1610.2,336.1 L1613.9,304.0 L1617.6,301.6 L1625.0,294.2 L1628.0,294.0 L1631.2,301.6 L1637.4,270.7 L1643.5,273.2 L1648.5,270.7 L1653.4,248.5 L1658.3,257.1 L1661.0,257.0 L1665.8,269.5 L1670.7,265.8 L1674.4,272.0 L1680.6,254.7 L1684.3,267.0 L1686.2,266.4 L1687.8,259.2 L1690.3,268.0 L1693.4,269.5 L1695.9,280.7 L1698.0,275.6 L1700.0,261.3 L1702.1,260.3 L1704.5,261.0 L1706.7,259.2 L1708.7,264.4 L1711.3,253.1 L1713.3,258.2 L1715.9,257.7 L1718.9,256.2 L1720.5,246.0 L1722.0,230.6 L1724.0,229.6 L1726.1,223.5 L1727.6,234.7 L1729.1,228.6 L1731.7,228.1 L1734.2,230.6 L1737.3,229.6 L1739.9,229.1 L1741.4,237.3 L1744.5,229.1 L1747.0,229.0 L1749.6,230.6 L1752.1,243.9 L1754.7,239.8 L1756.7,241.4 L1759.8,234.7 L1762.8,232.2 L1764.7,222.0 L1765.9,226.0 L1767.4,222.5 L1769.5,224.0 L1771.0,229.6 L1773.1,230.6 L1776.1,240.9 L1778.7,243.9 L1781.7,236.8" fill="none" stroke="#0d0d0d" stroke-width="2.3" stroke-linejoin="round"/>
<g stroke="#76767e" stroke-width="2.2">
<line x1="181" y1="191" x2="181" y2="1023.5"/>
<line x1="1792.3" y1="191" x2="1792.3" y2="1023.5"/>
</g>
<g stroke="#e0e0e0" stroke-width="1.5">
<line x1="292.5" y1="1024" x2="292.5" y2="1036"/>
<line x1="459.5" y1="1024" x2="459.5" y2="1036"/>
<line x1="623" y1="1024" x2="623" y2="1036"/>
<line x1="793" y1="1024" x2="793" y2="1036"/>
<line x1="959" y1="1024" x2="959" y2="1036"/>
<line x1="1125" y1="1024" x2="1125" y2="1036"/>
<line x1="1293" y1="1024" x2="1293" y2="1036"/>
<line x1="1460" y1="1024" x2="1460" y2="1036"/>
<line x1="1625" y1="1024" x2="1625" y2="1036"/>
</g>
<g font-size="20" fill="#555" text-anchor="middle">
<text x="292.5" y="1060">2022 Sep</text>
<text x="459.5" y="1060">2023 Jan</text>
<text x="623" y="1060">2023 May</text>
<text x="793" y="1060">2023 Sep</text>
<text x="959" y="1060">2024 Jan</text>
<text x="1125" y="1060">2024 May</text>
<text x="1293" y="1060">2024 Sep</text>
<text x="1460" y="1060">2025 Jan</text>
<text x="1625" y="1060">2025 May</text>
</g>
<g font-size="24.8" fill="#111" text-anchor="end">
<text x="164" y="291.1">100K</text>
<text x="164" y="324.9">90K</text>
<text x="164" y="362.7">80K</text>
<text x="164" y="405.6">70K</text>
<text x="164" y="455.0">60K</text>
<text x="164" y="513.6">50K</text>
<text x="164" y="585.2">40K</text>
<text x="164" y="677.5">30K</text>
<text x="164" y="807.6">20K</text>
<text x="164" y="1030.1">10K</text>
</g>
<g font-size="25.6" fill="#111">
<text x="1810" y="287.7">50%</text>
<text x="1810" y="486.8">25%</text>
<text x="1810" y="684.6">0%</text>
<text x="1810" y="882.4">-25%</text>
</g>
<text transform="translate(93,607.2) rotate(-90)" text-anchor="middle" font-size="23.5" fill="#111">BTC Price ($)</text>
<text transform="translate(1881.3,607) rotate(90)" text-anchor="middle" font-size="24.5" fill="#111">Momentum</text>
<circle cx="1637.6" cy="434" r="37" fill="rgba(225,232,248,0.3)" stroke="#111" stroke-width="2.4" stroke-dasharray="7,5.9"/>
<circle cx="1736" cy="546.5" r="37" fill="rgba(225,232,248,0.3)" stroke="#111" stroke-width="2.4" stroke-dasharray="7,5.9"/>
<circle cx="1783" cy="690.8" r="37" fill="rgba(225,232,248,0.3)" stroke="#111" stroke-width="2.4" stroke-dasharray="7,5.9"/>
<g font-size="37" font-weight="bold" fill="#0a0a0a">
<text x="1612.5" y="377.5">32%</text>
<text x="1711" y="497.5">16%</text>
<text x="1776" y="644">0%</text>
</g>
<defs><linearGradient id="gOr" x1="0" y1="0" x2="0" y2="1"><stop offset="0" stop-color="#ffb52a"/><stop offset="1" stop-color="#ff8a00"/></linearGradient>
<linearGradient id="gBl" x1="0" y1="0" x2="1" y2="1"><stop offset="0" stop-color="#9be0ff"/><stop offset="0.5" stop-color="#45a9f0"/><stop offset="1" stop-color="#2a78d0"/></linearGradient>
<linearGradient id="gYe" x1="0" y1="0" x2="0" y2="1"><stop offset="0" stop-color="#fcd54a"/><stop offset="1" stop-color="#eeb52a"/></linearGradient></defs>
<path d="M697.4,1071.2 L708.2,1082.3 L697.4,1093.7 L686.3,1082.3 Z" fill="url(#gOr)" stroke="#e99410" stroke-width="0.8" stroke-linejoin="round"/>
<path d="M720.3,1074 L730.9,1074 L736,1078.6 L724.7,1091.6 L713.7,1079 Z" fill="url(#gBl)" stroke="#3b86d6" stroke-width="0.7" stroke-linejoin="round"/>
<path d="M716,1079 L733,1079 M720.3,1074 L718.5,1079 L724.7,1091.6 M730.9,1074 L731.5,1079 L724.7,1091.6" stroke="#d6f2ff" stroke-width="0.6" fill="none" opacity="0.8"/>
<g fill="url(#gYe)" stroke="#e0a21c" stroke-width="0.6">
<path d="M741,1094 L741,1086 Q740,1077 744.3,1076.6 Q748.5,1077 748.2,1086 L747.5,1094 Z"/>
<path d="M757.5,1094 L756.8,1086 Q756.5,1077 760.7,1076.6 Q765,1077 764,1086 L764,1094 Z"/>
<path d="M747.8,1086 Q752.5,1080.5 757,1086 L756.6,1088.5 Q752.5,1084 748,1088.5 Z"/>
</g>
<g fill="#777"><circle cx="745.4" cy="1073.7" r="0.8"/><circle cx="750.3" cy="1073.3" r="0.7"/><circle cx="754.2" cy="1073.3" r="0.7"/><circle cx="758.7" cy="1073.7" r="0.8"/></g>
<text x="771" y="1089" font-size="20.1" fill="#555" textLength="517.8" lengthAdjust="spacingAndGlyphs">Get the full weekly market report at https://adlerinsight.com</text>
<line x1="1083.4" y1="1091.3" x2="1289.3" y2="1091.3" stroke="#666" stroke-width="1.3"/>
<text x="1658" y="1093" font-size="17.5" fill="#5e5e5e" stroke="#5e5e5e" stroke-width="0.25" textLength="240" lengthAdjust="spacingAndGlyphs">© CryptoQuant. All rights reserved</text>
</svg>
</body></html>
